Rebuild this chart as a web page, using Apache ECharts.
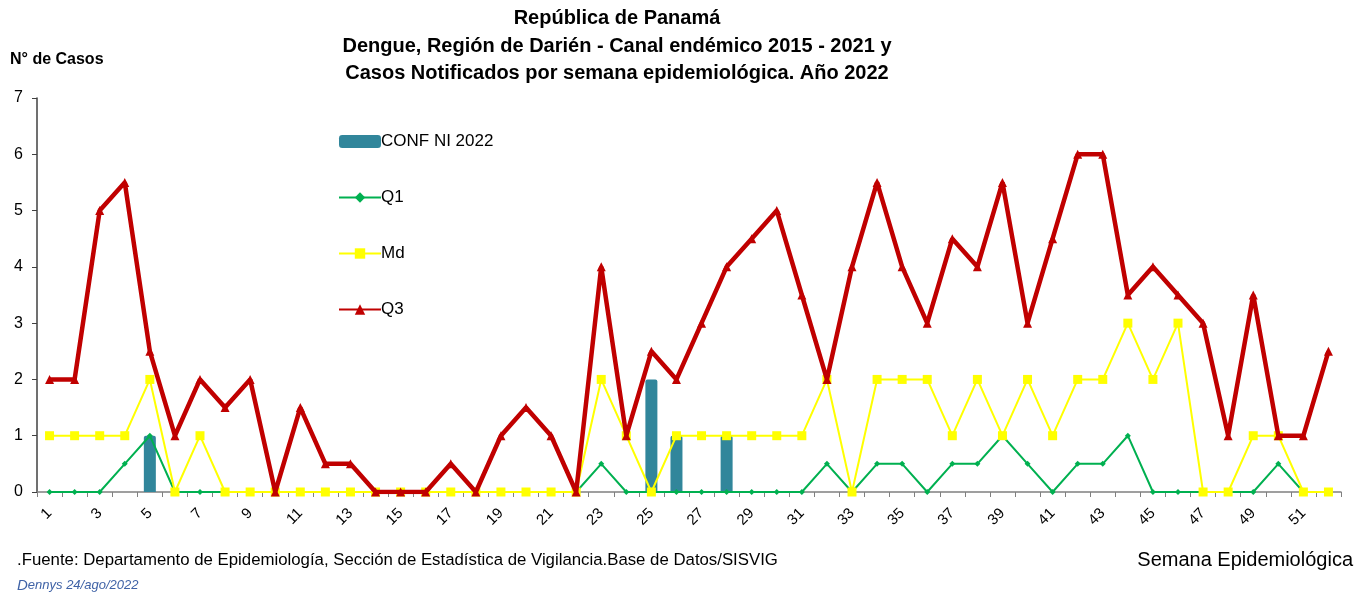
<!DOCTYPE html>
<html>
<head>
<meta charset="utf-8">
<script src="https://cdn.jsdelivr.net/npm/echarts/dist/echarts.min.js"></script>
<style>
  html, body { margin: 0; padding: 0; background: #fff; }
  #chart { width: 1371px; height: 596px; }
</style>
</head>
<body>
<div id="chart"></div>
<script>
// semanas epidemiológicas 1..52
var semanas = [];
for (var s = 1; s <= 52; s++) semanas.push(String(s));

// casos confirmados 2022 (solo semanas con casos)
var conf2022 = [0,0,0,0,1,0,0,0,0,0, 0,0,0,0,0,0,0,0,0,0, 0,0,0,0,2,1,0,1,0,0, 0,0,0,0,0,0,0,0,0,0, 0,0,0,0,0,0,0,0,0,0, 0,0];
var q1 = [0,0,0,0.5,1,0,0,0,0,0, 0,0,0,0,0,0,0,0,0,0, 0,0,0.5,0,0,0,0,0,0,0, 0,0.5,0,0.5,0.5,0,0.5,0.5,1,0.5, 0,0.5,0.5,1,0,0,0,0,0,0.5, 0,0];
var md = [1,1,1,1,2,0,1,0,0,0, 0,0,0,0,0,0,0,0,0,0, 0,0,2,1,0,1,1,1,1,1, 1,2,0,2,2,2,1,2,1,2, 1,2,2,3,2,3,0,0,1,1, 0,0];
var q3 = [2,2,5,5.5,2.5,1,2,1.5,2,0, 1.5,0.5,0.5,0,0,0,0.5,0,1,1.5, 1,0,4,1,2.5,2,3,4,4.5,5, 3.5,2,4,5.5,4,3,4.5,4,5.5,3, 4.5,6,6,3.5,4,3.5,3,1,3.5,1, 1,2.5];

// barras: 0 se deja vacío para no dibujar nada
var confBar = conf2022.map(function (v) { return v > 0 ? v : '-'; });

var myChart = echarts.init(document.getElementById('chart'));
var txtFont = '"Liberation Sans", Arial, sans-serif';
var azul = '#3F62A6';

myChart.setOption({
  animation: false,
  textStyle: { fontFamily: txtFont, color: '#000' },
  grid: { left: 37, right: 30, top: 98, bottom: 104 },
  legend: {
    orient: 'vertical',
    left: 333,
    top: 128,
    itemWidth: 42,
    itemHeight: 13,
    itemGap: 39,
    textStyle: { fontSize: 17, color: '#000', padding: [0, 0, 0, -5] },
    data: ['CONF NI 2022', 'Q1', 'Md', 'Q3']
  },
  xAxis: {
    type: 'category',
    data: semanas,
    boundaryGap: true,
    axisLine: { lineStyle: { color: '#808080', width: 1.5 } },
    axisTick: { show: true, length: 5, interval: 0, lineStyle: { color: '#808080' } },
    axisLabel: { interval: 1, rotate: 45, fontSize: 15, color: '#000', margin: 19 },
    splitLine: { show: false }
  },
  yAxis: {
    type: 'value',
    min: 0,
    max: 7,
    interval: 1,
    axisLine: { show: true, lineStyle: { color: '#404040', width: 1.5 } },
    axisTick: { show: true, length: 5, lineStyle: { color: '#404040' } },
    axisLabel: { fontSize: 16, color: '#000', margin: 14 },
    splitLine: { show: false }
  },
  series: [
    {
      name: 'CONF NI 2022',
      type: 'bar',
      data: confBar,
      barWidth: 12,
      itemStyle: { color: '#31869B', borderRadius: [2, 2, 0, 0] },
      z: 1
    },
    {
      name: 'Q1',
      type: 'line',
      data: q1,
      symbol: 'diamond',
      symbolSize: 6,
      lineStyle: { color: '#00B050', width: 2 },
      itemStyle: { color: '#00B050' },
      z: 2
    },
    {
      name: 'Md',
      type: 'line',
      data: md,
      symbol: 'rect',
      symbolSize: 9,
      lineStyle: { color: '#FFFF00', width: 2 },
      itemStyle: { color: '#FFFF00' },
      z: 3
    },
    {
      name: 'Q3',
      type: 'line',
      data: q3,
      symbol: 'triangle',
      symbolSize: 9,
      lineStyle: { color: '#C00000', width: 4.5 },
      itemStyle: { color: '#C00000' },
      z: 4
    }
  ],
  graphic: [
    {
      type: 'text', x: 617, y: 5,
      style: {
        text: 'República de Panamá\nDengue, Región de Darién - Canal endémico 2015 - 2021 y\nCasos Notificados por semana epidemiológica. Año 2022',
        font: 'bold 20px ' + txtFont, fill: '#000', align: 'center', verticalAlign: 'top', lineHeight: 27.5
      }
    },
    {
      type: 'text', x: 10, y: 52,
      style: { text: 'N° de Casos', font: 'bold 16px ' + txtFont, fill: '#000' }
    },
    {
      type: 'text', x: 17, y: 552,
      style: { text: '.Fuente: Departamento de Epidemiología, Sección de Estadística de Vigilancia.Base de Datos/SISVIG', font: '16.8px ' + txtFont, fill: '#000' }
    },
    {
      type: 'text', x: 1353, y: 550,
      style: { text: 'Semana Epidemiológica', font: '20px ' + txtFont, fill: '#000', align: 'right' }
    },
    {
      type: 'text', x: 17, y: 578,
      style: {
        text: '{a|D}{b|ennys 24/ago/2022}',
        fill: azul,
        rich: {
          a: { fontSize: 15, fontStyle: 'italic', fontFamily: txtFont, fill: azul },
          b: { fontSize: 13, fontStyle: 'italic', fontFamily: txtFont, fill: azul }
        }
      }
    }
  ]
});
</script>
</body>
</html>
